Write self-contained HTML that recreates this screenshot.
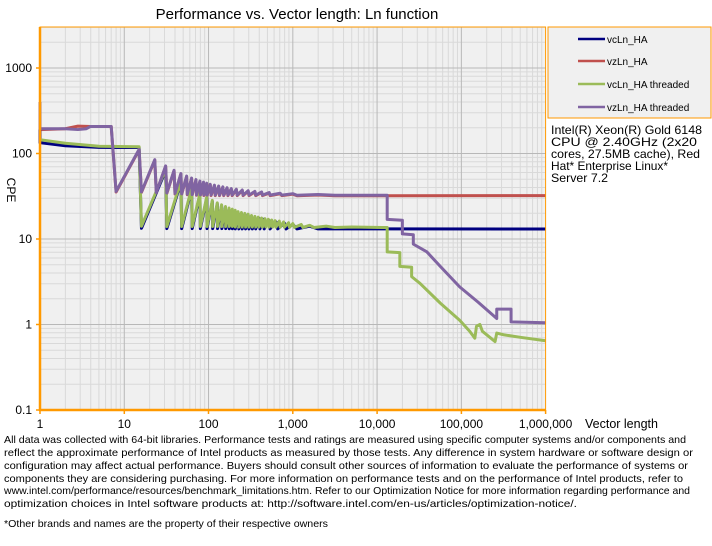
<!DOCTYPE html>
<html><head><meta charset="utf-8">
<style>
html,body{margin:0;padding:0;background:#fff;}
svg{display:block;font-family:"Liberation Sans",Arial,sans-serif;}
</style></head>
<body>
<svg width="712" height="546" viewBox="0 0 712 546" xmlns="http://www.w3.org/2000/svg">
<rect x="0" y="0" width="712" height="546" fill="#fff"/>
<text x="297" y="19" font-size="15" text-anchor="middle" fill="#000">Performance vs. Vector length: Ln function</text>
<rect x="40" y="27" width="505.6" height="383" fill="#f0f0f0"/>
<g transform="translate(40 324.5) scale(84.27 -85.5)" fill="none">
<path vector-effect="non-scaling-stroke" stroke="#d9d9d9" stroke-width="1" d="
M0.301 -1V3.48M0.477 -1V3.48M0.602 -1V3.48M0.699 -1V3.48M0.778 -1V3.48M0.845 -1V3.48M0.903 -1V3.48M0.954 -1V3.48
M1.301 -1V3.48M1.477 -1V3.48M1.602 -1V3.48M1.699 -1V3.48M1.778 -1V3.48M1.845 -1V3.48M1.903 -1V3.48M1.954 -1V3.48
M2.301 -1V3.48M2.477 -1V3.48M2.602 -1V3.48M2.699 -1V3.48M2.778 -1V3.48M2.845 -1V3.48M2.903 -1V3.48M2.954 -1V3.48
M3.301 -1V3.48M3.477 -1V3.48M3.602 -1V3.48M3.699 -1V3.48M3.778 -1V3.48M3.845 -1V3.48M3.903 -1V3.48M3.954 -1V3.48
M4.301 -1V3.48M4.477 -1V3.48M4.602 -1V3.48M4.699 -1V3.48M4.778 -1V3.48M4.845 -1V3.48M4.903 -1V3.48M4.954 -1V3.48
M5.301 -1V3.48M5.477 -1V3.48M5.602 -1V3.48M5.699 -1V3.48M5.778 -1V3.48M5.845 -1V3.48M5.903 -1V3.48M5.954 -1V3.48
M0 -0.699H6M0 -0.523H6M0 -0.398H6M0 -0.301H6M0 -0.222H6M0 -0.155H6M0 -0.097H6M0 -0.046H6
M0 0.301H6M0 0.477H6M0 0.602H6M0 0.699H6M0 0.778H6M0 0.845H6M0 0.903H6M0 0.954H6
M0 1.301H6M0 1.477H6M0 1.602H6M0 1.699H6M0 1.778H6M0 1.845H6M0 1.903H6M0 1.954H6
M0 2.301H6M0 2.477H6M0 2.602H6M0 2.699H6M0 2.778H6M0 2.845H6M0 2.903H6M0 2.954H6
M0 3.301H6M0 3.477H6"/>
<path vector-effect="non-scaling-stroke" stroke="#b8b8b8" stroke-width="1" d="M1 -1V3.48M2 -1V3.48M3 -1V3.48M4 -1V3.48M5 -1V3.48M0 0H6M0 1H6M0 2H6M0 3H6"/>
<g stroke-width="3" stroke-linejoin="round">
<path vector-effect="non-scaling-stroke" stroke="#c0504d" d="M0 2.52L0 2.279L0.3 2.29L0.45 2.32L0.6 2.316L0.845 2.316L0.903 1.55L1.176 2.042L1.204 1.545L1.362 1.922L1.380 1.538L1.491 1.849L1.505 1.533L1.591 1.798L1.602 1.527L1.672 1.76L1.681 1.522L1.740 1.73L1.748 1.518L1.799 1.707L1.806 1.514L1.851 1.689L1.857 1.512L1.898 1.672L1.903 1.51L1.94 1.659L1.944 1.509L1.978 1.647L1.982 1.508L2.02 1.634L2.03 1.508L2.07 1.624L2.08 1.507L2.12 1.614L2.13 1.507L2.17 1.604L2.18 1.507L2.22 1.594L2.23 1.507L2.27 1.584L2.28 1.507L2.33 1.576L2.34 1.507L2.4 1.567L2.41 1.507L2.47 1.559L2.48 1.507L2.55 1.551L2.56 1.507L2.63 1.544L2.64 1.507L2.72 1.537L2.73 1.507L2.85 1.529L2.87 1.507L3 1.524L3.05 1.506L3.3 1.514L3.5 1.506L6 1.507"/>
<path vector-effect="non-scaling-stroke" stroke="#000080" d="M0 2.447L0 2.127L0.3 2.09L0.7 2.072L1.176 2.07L1.204 1.125L1.491 1.8L1.505 1.122L1.672 1.665L1.681 1.122L1.799 1.58L1.806 1.122L1.898 1.52L1.903 1.122L1.978 1.475L1.982 1.122L2.045 1.44L2.049 1.122L2.104 1.41L2.107 1.122L2.155 1.39L2.158 1.122L2.201 1.37L2.204 1.122L2.243 1.353L2.246 1.12L2.281 1.339L2.283 1.12L2.316 1.326L2.318 1.118L2.35 1.31L2.36 1.118L2.39 1.3L2.4 1.118L2.43 1.29L2.44 1.118L2.47 1.28L2.48 1.118L2.51 1.265L2.52 1.118L2.55 1.255L2.56 1.118L2.6 1.24L2.61 1.118L2.65 1.23L2.66 1.118L2.72 1.215L2.73 1.118L2.8 1.2L2.82 1.118L2.9 1.185L2.92 1.118L3.0 1.17L3.05 1.118L3.2 1.15L3.3 1.118L6 1.117"/>
<path vector-effect="non-scaling-stroke" stroke="#9bbb59" d="M0 2.161L0.3 2.12L0.7 2.085L1.176 2.079L1.204 1.149L1.491 1.815L1.505 1.146L1.672 1.68L1.681 1.146L1.799 1.594L1.806 1.146L1.898 1.533L1.903 1.146L1.978 1.488L1.982 1.146L2.045 1.452L2.049 1.146L2.104 1.423L2.107 1.146L2.155 1.40L2.158 1.146L2.201 1.38L2.204 1.146L2.243 1.363L2.246 1.146L2.281 1.349L2.283 1.146L2.316 1.336L2.318 1.14L2.35 1.32L2.36 1.14L2.39 1.31L2.40 1.14L2.43 1.30L2.44 1.14L2.47 1.29L2.48 1.14L2.51 1.275L2.52 1.14L2.55 1.265L2.56 1.14L2.59 1.255L2.60 1.14L2.63 1.245L2.64 1.14L2.67 1.238L2.68 1.14L2.71 1.23L2.72 1.14L2.75 1.222L2.76 1.14L2.79 1.215L2.80 1.138L2.84 1.21L2.85 1.138L2.89 1.2L2.9 1.138L2.95 1.19L2.96 1.136L3.0 1.18L3.02 1.136L3.1 1.17L3.12 1.135L3.2 1.16L3.25 1.135L3.4 1.15L3.5 1.134L3.7 1.14L4.12 1.134L4.12 0.85L4.27 0.84L4.27 0.68L4.41 0.67L4.41 0.56L4.51 0.48L4.75 0.25L4.98 0.05L5.1 -0.08L5.16 -0.16L5.18 -0.02L5.22 0L5.25 -0.08L5.4 -0.2L5.42 -0.1L5.5 -0.12L5.7 -0.15L6 -0.19"/>
<path vector-effect="non-scaling-stroke" stroke="#8064a2" d="M0 2.602L0 2.29L0.3 2.29L0.45 2.28L0.55 2.29L0.6 2.316L0.845 2.316L0.903 1.556L1.176 2.048L1.204 1.551L1.362 1.928L1.380 1.544L1.491 1.855L1.505 1.539L1.591 1.804L1.602 1.533L1.672 1.766L1.681 1.528L1.740 1.736L1.748 1.524L1.799 1.713L1.806 1.52L1.851 1.695L1.857 1.518L1.898 1.678L1.903 1.516L1.94 1.665L1.944 1.515L1.978 1.653L1.982 1.514L2.02 1.64L2.03 1.514L2.07 1.63L2.08 1.513L2.12 1.62L2.13 1.513L2.17 1.61L2.18 1.513L2.22 1.6L2.23 1.513L2.27 1.59L2.28 1.513L2.33 1.582L2.34 1.513L2.4 1.573L2.41 1.513L2.47 1.565L2.48 1.513L2.55 1.557L2.56 1.513L2.63 1.55L2.64 1.513L2.72 1.543L2.73 1.513L2.85 1.535L2.87 1.513L3 1.53L3.05 1.512L3.3 1.52L3.5 1.512L4.12 1.512L4.12 1.23L4.3 1.22L4.3 1.06L4.43 1.05L4.43 0.94L4.59 0.85L4.75 0.68L4.98 0.44L5.2 0.26L5.42 0.07L5.42 0.18L5.59 0.18L5.59 0.03L6 0.02"/>
</g>
</g>
<rect x="40" y="27" width="505.6" height="383" fill="none" stroke="#ff9900" stroke-width="1"/>
<line x1="40" y1="27" x2="40" y2="411" stroke="#ff9900" stroke-width="2.5"/>
<line x1="39" y1="410" x2="546" y2="410" stroke="#ff9900" stroke-width="2.5"/>
<g stroke="#ff9900" stroke-width="1.5">
<line x1="40" y1="410" x2="40" y2="414"/><line x1="124.3" y1="410" x2="124.3" y2="414"/><line x1="208.5" y1="410" x2="208.5" y2="414"/><line x1="292.8" y1="410" x2="292.8" y2="414"/><line x1="377.1" y1="410" x2="377.1" y2="414"/><line x1="461.4" y1="410" x2="461.4" y2="414"/><line x1="545.6" y1="410" x2="545.6" y2="414"/>
<line x1="36" y1="410" x2="40" y2="410"/><line x1="36" y1="324.5" x2="40" y2="324.5"/><line x1="36" y1="239" x2="40" y2="239"/><line x1="36" y1="153.5" x2="40" y2="153.5"/><line x1="36" y1="68" x2="40" y2="68"/>
</g>
<g font-size="12" fill="#000" text-anchor="middle">
<text x="40" y="428">1</text><text x="124.3" y="428">10</text><text x="208.5" y="428">100</text><text x="292.8" y="428">1,000</text><text x="377.1" y="428">10,000</text><text x="461.4" y="428">100,000</text><text x="545.6" y="428">1,000,000</text>
</g>
<g font-size="12" fill="#000" text-anchor="end">
<text x="32" y="414">0.1</text><text x="32" y="328.5">1</text><text x="32" y="243">10</text><text x="32" y="157.5">100</text><text x="32" y="72">1000</text>
</g>
<text transform="translate(7,190) rotate(90)" font-size="12" text-anchor="middle">CPE</text>
<text x="585" y="428" font-size="12.5">Vector length</text>
<rect x="548" y="27" width="163" height="91" fill="#f0f0f0" stroke="#ff9900" stroke-width="1"/>
<line x1="578" y1="39" x2="605" y2="39" stroke="#000080" stroke-width="2.5"/>
<text x="607" y="43" font-size="10">vcLn_HA</text>
<line x1="578" y1="61" x2="605" y2="61" stroke="#c0504d" stroke-width="2.5"/>
<text x="607" y="65" font-size="10">vzLn_HA</text>
<line x1="578" y1="84" x2="605" y2="84" stroke="#9bbb59" stroke-width="2.5"/>
<text x="607" y="88" font-size="10">vcLn_HA threaded</text>
<line x1="578" y1="107" x2="605" y2="107" stroke="#8064a2" stroke-width="2.5"/>
<text x="607" y="111" font-size="10">vzLn_HA threaded</text>
<g font-size="12">
<text x="551" y="134" textLength="151" lengthAdjust="spacingAndGlyphs">Intel(R) Xeon(R) Gold 6148</text>
<text x="551" y="146" textLength="146" lengthAdjust="spacingAndGlyphs">CPU @ 2.40GHz (2x20</text>
<text x="551" y="158" textLength="149" lengthAdjust="spacingAndGlyphs">cores, 27.5MB cache), Red</text>
<text x="551" y="170" textLength="117" lengthAdjust="spacingAndGlyphs">Hat* Enterprise Linux*</text>
<text x="551" y="182" textLength="57" lengthAdjust="spacingAndGlyphs">Server 7.2</text>
</g>
<g font-size="10.5" fill="#000">
<text x="4" y="443" textLength="682" lengthAdjust="spacingAndGlyphs">All data was collected with 64-bit libraries. Performance tests and ratings are measured  using specific computer systems and/or components  and</text>
<text x="4" y="456" textLength="689" lengthAdjust="spacingAndGlyphs">reflect the approximate  performance of Intel products as measured by those tests.  Any difference in system hardware or software design or</text>
<text x="4" y="469" textLength="684" lengthAdjust="spacingAndGlyphs">configuration may affect actual performance. Buyers should consult other sources of information to evaluate  the performance of systems or</text>
<text x="4" y="482" textLength="679" lengthAdjust="spacingAndGlyphs">components they are considering purchasing. For more information on performance tests and on the performance of Intel products, refer to</text>
<text x="4" y="494" textLength="686" lengthAdjust="spacingAndGlyphs">www.intel.com/performance/resources/benchmark_limitations.htm.  Refer to our Optimization  Notice for more information regarding performance and</text>
<text x="4" y="507" textLength="573" lengthAdjust="spacingAndGlyphs">optimization  choices in Intel software products at: http://software.intel.com/en-us/articles/optimization-notice/.</text>
<text x="4" y="527" textLength="324" lengthAdjust="spacingAndGlyphs">*Other brands and names are the property of their respective owners</text>
</g>
</svg>
</body></html>
